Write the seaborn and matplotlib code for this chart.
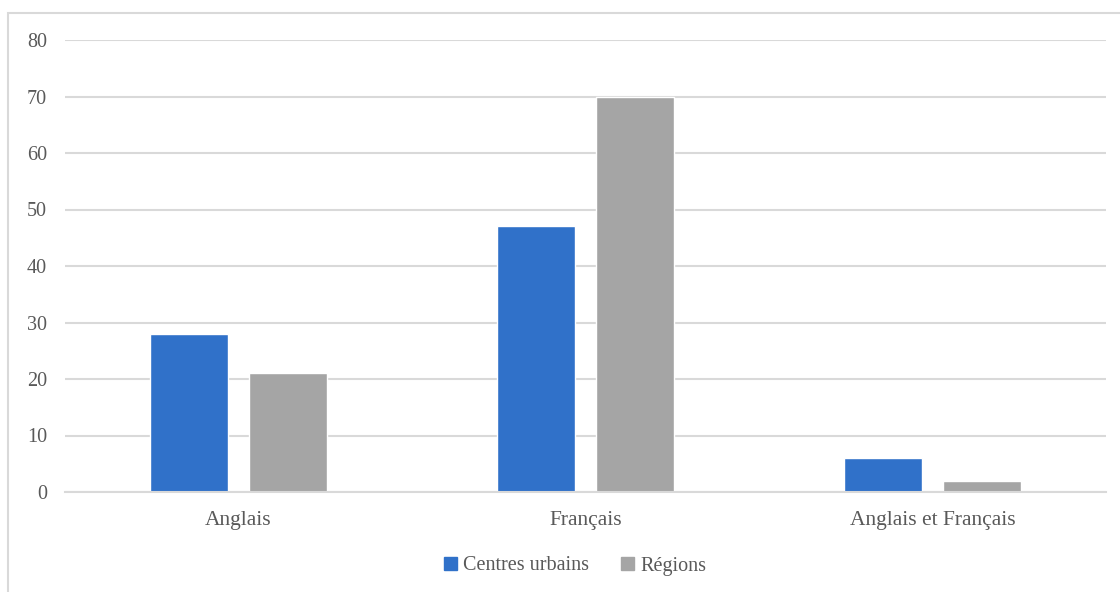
import matplotlib
matplotlib.use("Agg")
import matplotlib.pyplot as plt
from matplotlib.patches import Rectangle
import seaborn as sns
import pandas as pd

# Data
categories = ["Anglais", "Français", "Anglais et Français"]
series_names = ["Centres urbains", "Régions"]
centres_urbains = [28, 47, 6]
regions = [21, 70, 2]
y_ticks = [0, 10, 20, 30, 40, 50, 60, 70, 80]

colors = ["#3071C9", "#A5A5A5"]
text_color = "#595959"
grid_color = "#D9D9D9"

df = pd.DataFrame({
    "Langue": categories * 2,
    "Zone": [series_names[0]] * 3 + [series_names[1]] * 3,
    "Valeur": centres_urbains + regions,
})

sns.set_theme(style="white")
plt.rcParams["font.family"] = ["Liberation Serif", "DejaVu Serif"]

fig = plt.figure(figsize=(11.2, 5.92), dpi=100)
ax = fig.add_axes([65 / 1120, 100 / 592, (1106 - 65) / 1120, 452 / 592])

sns.barplot(
    data=df, x="Langue", y="Valeur", hue="Zone",
    palette=colors, width=0.573, gap=0.215,
    order=categories, hue_order=series_names,
    ax=ax, saturation=1, legend=False,
)

ax.set_ylim(0, 80)
ax.set_xlim(-0.5, 2.5)
ax.set_yticks(y_ticks)
ax.yaxis.grid(True, color=grid_color, linewidth=1.5)
ax.set_axisbelow(True)
for s in ["top", "right", "left"]:
    ax.spines[s].set_visible(False)
ax.spines["bottom"].set_color(grid_color)
ax.spines["bottom"].set_linewidth(1.5)
ax.tick_params(axis="y", length=0, pad=13, labelsize=14.5, labelcolor=text_color)
ax.tick_params(axis="x", length=0, pad=14, labelsize=15.5, labelcolor=text_color)
ax.set_xlabel("")
ax.set_ylabel("")

# Legend below the plot
handles = [Rectangle((0, 0), 1, 1, color=c) for c in colors]
fig.legend(
    handles, series_names, loc="center", bbox_to_anchor=(575 / 1120, 1 - 566 / 592),
    ncol=2, frameon=False, fontsize=14.5, labelcolor=text_color,
    handlelength=0.65, handleheight=0.65, handletextpad=0.3, columnspacing=1.6,
)

# Chart frame
fig.patches.append(Rectangle(
    (8 / 1120, -0.1), 1.0, 1 - 13 / 592 + 0.1,
    transform=fig.transFigure, fill=False, edgecolor=grid_color, linewidth=1.5,
))

fig.savefig("out.png", dpi=100)
